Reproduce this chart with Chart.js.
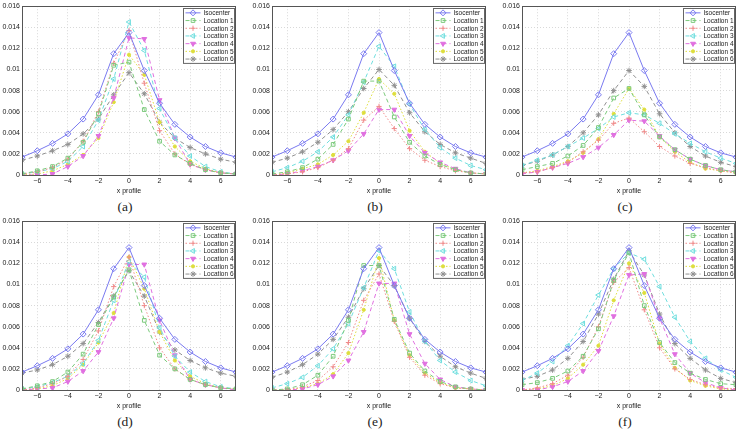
<!DOCTYPE html>
<html>
<head>
<meta charset="utf-8">
<script src="https://cdn.jsdelivr.net/npm/chart.js@4/dist/chart.umd.min.js"></script>
<style>
  html, body { margin:0; padding:0; background:#fff; }
  body { width:750px; height:431px; position:relative; overflow:hidden; }
  .cell { position:absolute; width:250px; height:195px; }
  .cap { position:absolute; width:250px; text-align:center; font-family:"Liberation Serif","DejaVu Serif",serif; font-size:13.5px; color:#222; }
</style>
</head>
<body>
<script>
// ---------- data ----------
const xValues = [-7,-6,-5,-4,-3,-2,-1,0,1,2,3,4,5,6,7];
const xTicks = [-6,-4,-2,0,2,4,6];
const yTicks = [0,0.002,0.004,0.006,0.008,0.01,0.012,0.014,0.016];
const seriesNames = ['Isocenter','Location 1','Location 2','Location 3','Location 4','Location 5','Location 6'];
const panelLabels = ['(a)','(b)','(c)','(d)','(e)','(f)'];
const xTitle = 'x profile';

const isocenter = [0.0017,0.0023,0.0030,0.0039,0.0053,0.0076,0.0115,0.0135,0.0099,0.0068,0.0048,0.0036,0.0027,0.0021,0.0017];

// each panel: Location 1..6
const panelA = [
  [0.0001,0.0004,0.0008,0.0016,0.0031,0.0058,0.0104,0.0107,0.0062,0.0032,0.0019,0.0011,0.0005,0.0002,0.0001],
  [0.0001,0.0003,0.0007,0.0015,0.0032,0.0060,0.0106,0.0137,0.0087,0.0042,0.0020,0.0010,0.0005,0.0002,0.0001],
  [0.0001,0.0003,0.0006,0.0013,0.0027,0.0052,0.0091,0.0145,0.0118,0.0063,0.0035,0.0018,0.0008,0.0003,0.0001],
  [0.0000,0.0000,0.0001,0.0008,0.0018,0.0037,0.0073,0.0130,0.0129,0.0071,0.0035,0.0010,0.0005,0.0002,0.0001],
  [0.0000,0.0001,0.0004,0.0010,0.0019,0.0035,0.0069,0.0114,0.0095,0.0050,0.0027,0.0013,0.0006,0.0002,0.0001],
  [0.0014,0.0018,0.0023,0.0029,0.0039,0.0053,0.0076,0.0097,0.0077,0.0050,0.0035,0.0026,0.0020,0.0015,0.0012]
];
const panelB = [
  [0.0001,0.0003,0.0007,0.0015,0.0029,0.0053,0.0089,0.0089,0.0055,0.0031,0.0018,0.0010,0.0005,0.0002,0.0001],
  [0.0000,0.0001,0.0003,0.0007,0.0014,0.0025,0.0052,0.0065,0.0044,0.0025,0.0014,0.0008,0.0004,0.0002,0.0001],
  [0.0003,0.0007,0.0013,0.0022,0.0036,0.0057,0.0088,0.0122,0.0103,0.0067,0.0043,0.0026,0.0016,0.0009,0.0005],
  [0.0000,0.0001,0.0004,0.0008,0.0014,0.0023,0.0039,0.0062,0.0062,0.0037,0.0021,0.0012,0.0006,0.0002,0.0001],
  [0.0000,0.0002,0.0006,0.0010,0.0019,0.0032,0.0059,0.0091,0.0077,0.0042,0.0022,0.0011,0.0005,0.0002,0.0001],
  [0.0012,0.0016,0.0022,0.0031,0.0043,0.0060,0.0082,0.0100,0.0085,0.0059,0.0041,0.0029,0.0021,0.0016,0.0011]
];
const panelC = [
  [0.0005,0.0008,0.0011,0.0018,0.0028,0.0045,0.0073,0.0082,0.0057,0.0036,0.0024,0.0015,0.0009,0.0005,0.0003],
  [0.0002,0.0003,0.0007,0.0012,0.0022,0.0033,0.0049,0.0054,0.0041,0.0027,0.0018,0.0011,0.0007,0.0004,0.0002],
  [0.0009,0.0014,0.0019,0.0027,0.0035,0.0044,0.0055,0.0059,0.0057,0.0049,0.0039,0.0030,0.0022,0.0016,0.0011],
  [0.0001,0.0003,0.0007,0.0011,0.0017,0.0026,0.0038,0.0052,0.0051,0.0037,0.0024,0.0015,0.0009,0.0005,0.0003],
  [0.0002,0.0004,0.0008,0.0013,0.0021,0.0034,0.0058,0.0082,0.0062,0.0036,0.0022,0.0012,0.0006,0.0004,0.0002],
  [0.0009,0.0013,0.0019,0.0027,0.0040,0.0057,0.0080,0.0099,0.0084,0.0058,0.0040,0.0027,0.0018,0.0012,0.0008]
];
const panelD = [
  [0.0001,0.0004,0.0008,0.0017,0.0034,0.0062,0.0088,0.0114,0.0066,0.0033,0.0020,0.0010,0.0005,0.0002,0.0001],
  [0.0000,0.0002,0.0006,0.0013,0.0029,0.0056,0.0098,0.0126,0.0080,0.0040,0.0020,0.0010,0.0005,0.0002,0.0001],
  [0.0001,0.0003,0.0007,0.0013,0.0025,0.0047,0.0085,0.0122,0.0107,0.0059,0.0032,0.0017,0.0008,0.0003,0.0001],
  [0.0000,0.0001,0.0002,0.0008,0.0018,0.0036,0.0068,0.0119,0.0119,0.0066,0.0033,0.0010,0.0005,0.0002,0.0000],
  [0.0000,0.0001,0.0004,0.0011,0.0024,0.0045,0.0073,0.0126,0.0096,0.0055,0.0028,0.0013,0.0006,0.0002,0.0001],
  [0.0016,0.0019,0.0024,0.0032,0.0044,0.0064,0.0089,0.0113,0.0089,0.0055,0.0038,0.0028,0.0021,0.0016,0.0013]
];
const panelE = [
  [0.0000,0.0001,0.0005,0.0014,0.0032,0.0066,0.0118,0.0118,0.0067,0.0035,0.0018,0.0008,0.0003,0.0001,0.0000],
  [0.0000,0.0000,0.0003,0.0009,0.0022,0.0045,0.0085,0.0110,0.0065,0.0031,0.0014,0.0006,0.0002,0.0001,0.0000],
  [0.0002,0.0006,0.0012,0.0023,0.0039,0.0063,0.0097,0.0132,0.0115,0.0074,0.0046,0.0028,0.0017,0.0009,0.0004],
  [0.0000,0.0000,0.0001,0.0005,0.0013,0.0028,0.0055,0.0101,0.0101,0.0053,0.0025,0.0010,0.0003,0.0001,0.0000],
  [0.0000,0.0000,0.0002,0.0006,0.0015,0.0035,0.0076,0.0125,0.0066,0.0033,0.0016,0.0007,0.0002,0.0001,0.0000],
  [0.0012,0.0017,0.0024,0.0034,0.0048,0.0069,0.0096,0.0118,0.0099,0.0068,0.0046,0.0032,0.0022,0.0016,0.0011]
];
const panelF = [
  [0.0005,0.0007,0.0011,0.0018,0.0032,0.0058,0.0104,0.0130,0.0080,0.0045,0.0026,0.0016,0.0010,0.0006,0.0005],
  [0.0000,0.0002,0.0006,0.0014,0.0031,0.0060,0.0102,0.0116,0.0076,0.0040,0.0020,0.0010,0.0005,0.0002,0.0001],
  [0.0009,0.0016,0.0027,0.0042,0.0063,0.0090,0.0115,0.0130,0.0124,0.0098,0.0069,0.0046,0.0030,0.0019,0.0012],
  [0.0000,0.0000,0.0003,0.0008,0.0018,0.0037,0.0070,0.0109,0.0110,0.0068,0.0034,0.0016,0.0007,0.0002,0.0000],
  [0.0000,0.0001,0.0004,0.0011,0.0024,0.0042,0.0085,0.0120,0.0092,0.0044,0.0021,0.0009,0.0004,0.0001,0.0000],
  [0.0010,0.0013,0.0019,0.0030,0.0046,0.0072,0.0105,0.0132,0.0109,0.0072,0.0044,0.0030,0.0019,0.0011,0.0007]
];
const panels = [panelA, panelB, panelC, panelD, panelE, panelF];

// ---------- styles ----------
const colors = ['#7a7af0','#7cca7c','#f08a8a','#6fdede','#e070e0','#dede3c','#909090'];
const dashes = [[], [4,3], [1.5,2], [4,3], [4,3], [1.5,2], [4,3]];
const pStyles = ['rectRot','rect','cross','triangle','triangle','circle','star'];
const pRot = [0,0,0,-90,180,0,0];
const pFill = [false,false,false,false,true,true,false];
const pRad = [3,2.6,2.6,2.8,2.8,1.6,2.8];

const FONT = '"Liberation Sans", Arial, sans-serif';

const boxLegendPlugin = {
  id: 'boxLegend',
  afterDraw(chart) {
    const ctx = chart.ctx, ca = chart.chartArea;
    // axes box
    ctx.save();
    ctx.strokeStyle = '#555';
    ctx.lineWidth = 1;
    ctx.strokeRect(Math.round(ca.left)+0.5, Math.round(ca.top)+0.5, Math.round(ca.right-ca.left)-1, Math.round(ca.bottom-ca.top));
    // legend
    const w = 51, rowH = 7.7, n = chart.data.datasets.length;
    const h = rowH*n + 1;
    const x0 = Math.round(ca.right - w - 2) + 0.5, y0 = Math.round(ca.top + 2) + 0.5;
    ctx.fillStyle = '#fff';
    ctx.fillRect(x0, y0, w, h);
    ctx.strokeStyle = '#666';
    ctx.strokeRect(x0, y0, w, h);
    ctx.font = '6.5px ' + FONT;
    ctx.textBaseline = 'middle';
    chart.data.datasets.forEach((ds, i) => {
      const yy = y0 + 0.5 + rowH*i + rowH/2;
      ctx.save();
      ctx.strokeStyle = ds.borderColor;
      ctx.lineWidth = 1;
      ctx.setLineDash(ds.borderDash || []);
      ctx.beginPath();
      ctx.moveTo(x0 + 2, yy);
      ctx.lineTo(x0 + 17, yy);
      ctx.stroke();
      ctx.setLineDash([]);
      ctx.fillStyle = ds.pointBackgroundColor;
      ctx.strokeStyle = ds.borderColor;
      Chart.helpers.drawPoint(ctx, {pointStyle: ds.pointStyle, rotation: ds.pointRotation, radius: ds.pointRadius, borderWidth: 1}, x0 + 9.5, yy);
      ctx.restore();
      ctx.fillStyle = '#222';
      ctx.fillText(ds.label, x0 + 20, yy + 0.5);
    });
    ctx.restore();
  }
};

function fmtY(v) {
  if (Math.abs(v) < 1e-12) return '0';
  return String(Number(v.toFixed(4)));
}
function fmtX(v) {
  return String(v).replace('-', '\u2212');
}

panels.forEach((locs, pi) => {
  const col = pi % 3, row = Math.floor(pi / 3);
  const left = col * 250, top = row * 215;
  const div = document.createElement('div');
  div.className = 'cell';
  div.style.left = left + 'px';
  div.style.top = top + 'px';
  const cv = document.createElement('canvas');
  cv.width = 250; cv.height = 195;
  cv.style.width = '250px'; cv.style.height = '195px';
  div.appendChild(cv);
  document.body.appendChild(div);
  const cap = document.createElement('div');
  cap.className = 'cap';
  cap.style.left = left + 'px';
  cap.style.top = (top + 199) + 'px';
  cap.textContent = panelLabels[pi];
  document.body.appendChild(cap);

  const allSeries = [isocenter].concat(locs);
  const datasets = allSeries.map((vals, si) => ({
    label: seriesNames[si],
    data: xValues.map((x, k) => ({x: x, y: vals[k]})),
    borderColor: colors[si],
    backgroundColor: colors[si],
    borderWidth: 1,
    borderDash: dashes[si],
    pointStyle: pStyles[si],
    pointRotation: pRot[si],
    pointRadius: pRad[si],
    pointBorderWidth: 1,
    pointBorderColor: colors[si],
    pointBackgroundColor: pFill[si] ? colors[si] : 'rgba(255,255,255,0)',
    tension: 0,
    fill: false
  }));

  new Chart(cv, {
    type: 'line',
    data: { datasets: datasets },
    plugins: [boxLegendPlugin],
    options: {
      responsive: false,
      animation: false,
      devicePixelRatio: 1,
      layout: { padding: { top: 6, right: 14, left: 0, bottom: 0 } },
      plugins: { legend: { display: false }, tooltip: { enabled: false } },
      scales: {
        x: {
          type: 'linear', min: -7, max: 7,
          afterBuildTicks: (s) => { s.ticks = xTicks.map(v => ({value: v})); },
          afterFit: (s) => { s.height = 20; },
          grid: { color: '#cfcfcf', lineWidth: 0.8, tickLength: 0, drawTicks: false },
          border: { display: false, dash: [1,2] },
          ticks: { font: { size: 7, family: FONT }, color: '#222', padding: 2, maxRotation: 0, callback: (v) => fmtX(v) },
          title: { display: true, text: xTitle, font: { size: 7, family: FONT }, color: '#222', padding: { top: 0, bottom: 0 } }
        },
        y: {
          type: 'linear', min: 0, max: 0.016,
          afterBuildTicks: (s) => { s.ticks = yTicks.map(v => ({value: v})); },
          afterFit: (s) => { s.width = 22; },
          grid: { color: '#cfcfcf', lineWidth: 0.8, tickLength: 0, drawTicks: false },
          border: { display: false, dash: [1,2] },
          ticks: { font: { size: 7, family: FONT }, color: '#222', padding: 2, callback: (v) => fmtY(v) }
        }
      }
    }
  });
});
</script>
</body>
</html>
